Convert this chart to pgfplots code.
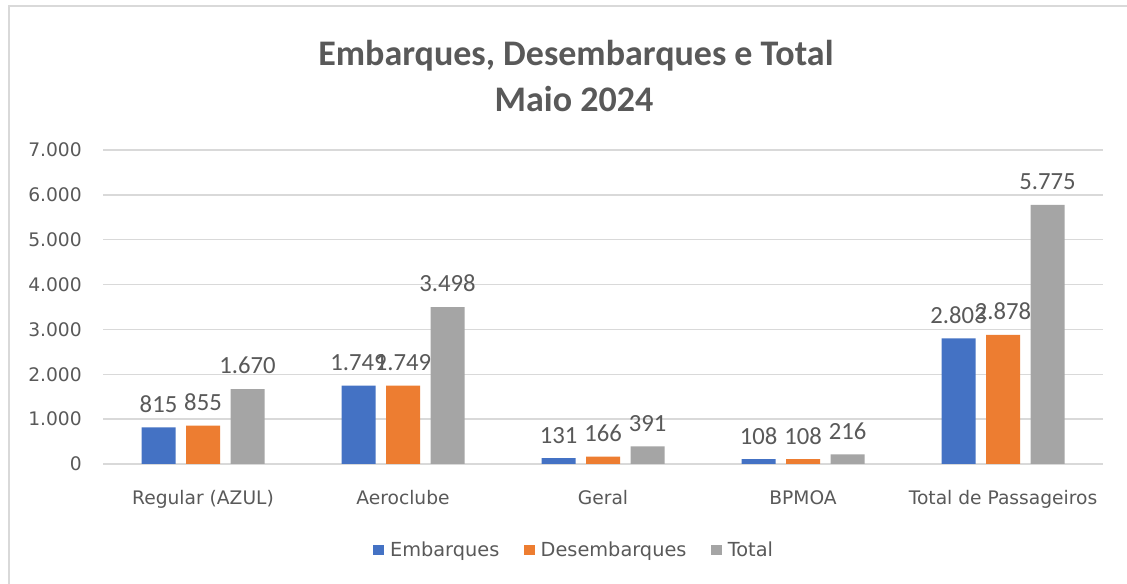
\documentclass[border=0pt]{standalone}
\usepackage{fontspec}
\setmainfont{DejaVu Sans}
\newfontfamily\calibri{Carlito}
\usepackage{pgfplots}
\pgfplotsset{compat=1.18}
\definecolor{cBlue}{HTML}{4472C4}
\definecolor{cOrange}{HTML}{ED7D31}
\definecolor{cGray}{HTML}{A5A5A5}
\definecolor{txt}{HTML}{595959}
\definecolor{gridc}{HTML}{D9D9D9}
\begin{document}
\begin{tikzpicture}[x=0.75pt,y=0.75pt]
\useasboundingbox (0,0) rectangle (1127,584);
\clip (0,0) rectangle (1127,584);
\fill[white] (0,0) rectangle (1127,584);
\draw[gridc, line width=1.2pt] (9,-10) rectangle (1140,578);
\node[txt, font=\calibri\bfseries\fontsize{27}{32}\selectfont, anchor=base, inner sep=0pt] at (576,518) {Embarques, Desembarques e Total};
\node[txt, font=\calibri\bfseries\fontsize{27}{32}\selectfont, anchor=base, inner sep=0pt] at (574,472) {Maio 2024};
\begin{axis}[
  at={(77.25pt,90pt)}, anchor=south west, scale only axis,
  width=750pt, height=235.5pt,
  ybar=7.875pt, bar width=25.5pt,
  xmin=-0.5, xmax=4.5, ymin=0, ymax=7000,
  xtick={0,1,2,3,4},
  xticklabels={Regular (AZUL),Aeroclube,Geral,BPMOA,Total de Passageiros},
  ytick={0,1000,2000,3000,4000,5000,6000,7000},
  scaled y ticks=false,
  ymajorgrids, grid style={gridc, line width=1pt},
  axis line style={draw=none}, major tick length=0pt,
  /pgf/number format/1000 sep={.},
  /pgf/number format/assume math mode=true,
  tick label style={font=\fontsize{14}{16}\selectfont, text=txt},
  yticklabel style={anchor=east, inner sep=0pt, xshift=-15.75pt},
  xticklabel style={anchor=base, inner sep=0pt, yshift=-30.75pt},
  nodes near coords,
  nodes near coords style={font=\calibri\fontsize{18.5}{20}\selectfont, text=txt, anchor=south, inner sep=0pt, yshift=11pt},
  legend style={at={(0.4715,-0.274)}, anchor=center, draw=none, fill=none,
    font=\fontsize{14.5}{16}\selectfont, text=txt,
    /tikz/every even column/.append style={column sep=16.5pt}},
  legend columns=3,
  legend image code/.code={\fill[#1] (0pt,-4pt) rectangle (8pt,4pt); \path (10.5pt,0pt);},
]
\addplot[fill=cBlue, draw=none] coordinates {(0,815) (1,1749) (2,131) (3,108) (4,2803)};
\addplot[fill=cOrange, draw=none] coordinates {(0,855) (1,1749) (2,166) (3,108) (4,2878)};
\addplot[fill=cGray, draw=none] coordinates {(0,1670) (1,3498) (2,391) (3,216) (4,5775)};
\legend{Embarques,Desembarques,Total}
\end{axis}
\end{tikzpicture}
\end{document}
